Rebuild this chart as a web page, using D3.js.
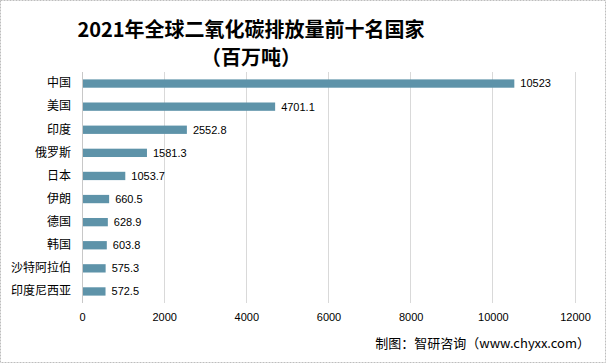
<!DOCTYPE html>
<html><head><meta charset="utf-8">
<script src="https://cdn.jsdelivr.net/npm/d3@7/dist/d3.min.js"></script>
<style>body{margin:0;background:#fff}svg{display:block}</style>
</head><body><svg id="c" width="606" height="363"></svg>
<script>
const categories = ["中国","美国","印度","俄罗斯","日本","伊朗","德国","韩国","沙特阿拉伯","印度尼西亚"];
const values = [10523,4701.1,2552.8,1581.3,1053.7,660.5,628.9,603.8,575.3,572.5];
const valueLabels = ["10523","4701.1","2552.8","1581.3","1053.7","660.5","628.9","603.8","575.3","572.5"];
const ticks = [0,2000,4000,6000,8000,10000,12000];

const svg = d3.select("#c");
const cjk = "'Noto Sans CJK SC', 'Microsoft YaHei', sans-serif";
svg.append("rect").attr("x",0.5).attr("y",0.5).attr("width",605).attr("height",362)
  .attr("fill","#fff").attr("stroke","#bdbdbd").attr("stroke-dasharray","2,1");

const x = d3.scaleLinear().domain([0,12000]).range([82,575]);
const y = d3.scaleBand().domain(categories).range([72,303]).paddingInner(0.64).paddingOuter(0.32);

// grid
svg.append("g").selectAll("line").data(ticks).join("line")
  .attr("x1",d=>x(d)).attr("x2",d=>x(d)).attr("y1",72).attr("y2",303)
  .attr("stroke",d=>d===0?"#c8c8c8":"#d9d9d9").attr("stroke-width",1)
  .attr("shape-rendering","crispEdges");

// axis labels
const ax = d3.axisBottom(x).tickValues(ticks).tickSize(0).tickPadding(0).tickFormat(d3.format("d"));
const axg = svg.append("g").attr("transform","translate(0,313)").call(ax);
axg.select(".domain").remove();
axg.selectAll("text").attr("font-family","'Liberation Sans', Arial, sans-serif").attr("font-size",11).attr("fill","#000").attr("dy","0.71em");

// bars
svg.append("g").selectAll("rect").data(values).join("rect")
  .attr("x",x(0)+1).attr("y",(d,i)=>y(categories[i]))
  .attr("width",d=>x(d)-x(0)-1).attr("height",y.bandwidth())
  .attr("fill","#5e93a9");

// value labels
svg.append("g").selectAll("text").data(values).join("text")
  .attr("x",d=>x(d)+6).attr("y",(d,i)=>y(categories[i])+y.bandwidth()/2)
  .attr("dy","0.35em").attr("font-family","'Liberation Sans', Arial, sans-serif").attr("font-size",11)
  .attr("fill","#000").text((d,i)=>valueLabels[i]);

// category labels
const yax = d3.axisLeft(y).tickSize(0).tickPadding(0);
const yg = svg.append("g").attr("transform","translate(71,0)").call(yax);
yg.select(".domain").remove();
yg.selectAll("text").attr("font-family",cjk).attr("font-size",12).attr("fill","#000");

// title
svg.append("text").attr("x",251).attr("y",37).attr("text-anchor","middle")
  .attr("font-family",cjk).attr("font-weight","bold").attr("font-size",20).attr("fill","#000")
  .text("2021年全球二氧化碳排放量前十名国家");
svg.append("text").attr("x",251).attr("y",65).attr("text-anchor","middle")
  .attr("font-family",cjk).attr("font-weight","bold").attr("font-size",20).attr("fill","#000")
  .text("（百万吨）");

// source
svg.append("text").attr("x",590).attr("y",348).attr("text-anchor","end")
  .attr("font-family",cjk).attr("font-size",13).attr("fill","#000")
  .text("制图：智研咨询（www.chyxx.com）");
</script></body></html>
